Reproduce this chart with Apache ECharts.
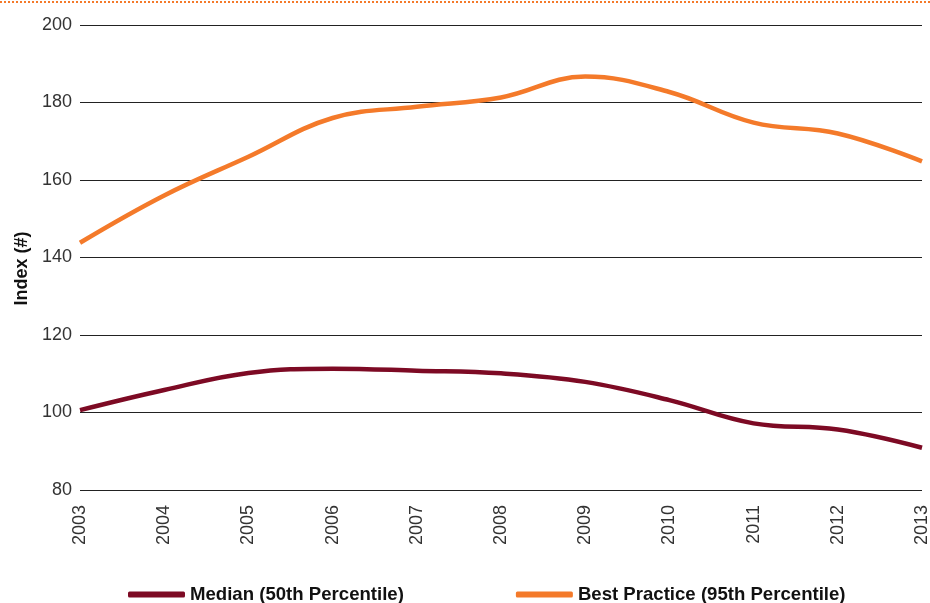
<!DOCTYPE html>
<html>
<head>
<meta charset="utf-8">
<script src="https://cdn.jsdelivr.net/npm/echarts@6/dist/echarts.min.js"></script>
<style>
  html, body { margin: 0; padding: 0; background: #fff; }
  #chart { width: 930px; height: 603px; }
</style>
</head>
<body>
<div id="chart"></div>
<script>
const years = ['2003', '2004', '2005', '2006', '2007', '2008', '2009', '2010', '2011', '2012', '2013']
const median = [100.6, 105.8, 110.2, 111.3, 110.8, 110.1, 107.9, 103.2, 97.2, 95.6, 90.9]
const bestPractice = [143.8, 156.0, 166.0, 176.0, 178.9, 181.3, 186.7, 182.7, 174.8, 172.0, 164.8]

const chart = echarts.init(document.getElementById('chart'))

chart.setOption({
  animation: false,
  textStyle: { fontFamily: 'Liberation Sans, Arial, sans-serif' },
  grid: { left: 80, right: 8, top: 25, bottom: 113, outerBoundsMode: 'none', containLabel: false },
  graphic: [
    {
      type: 'line',
      shape: { x1: 0, y1: 2, x2: 930, y2: 2 },
      style: { stroke: '#f47a2a', lineWidth: 2, lineDash: [2, 2] }
    }
  ],
  legend: {
    top: 585,
    left: 128,
    padding: 0,
    itemGap: 112,
    itemWidth: 57,
    itemHeight: 6,
    icon: 'roundRect',
    textStyle: { fontSize: 18.6, fontWeight: 'bold', color: '#111' },
    data: ['Median (50th Percentile)', 'Best Practice (95th Percentile)']
  },
  xAxis: {
    type: 'category',
    boundaryGap: false,
    data: years,
    axisLine: { show: false },
    axisTick: { show: false },
    axisLabel: { rotate: 90, margin: 15, fontSize: 18, color: '#333' }
  },
  yAxis: {
    type: 'value',
    min: 80,
    max: 200,
    interval: 20,
    name: 'Index (#)',
    nameLocation: 'middle',
    nameGap: 48,
    nameTextStyle: { fontSize: 18, fontWeight: 'bold', color: '#111', padding: [0, 22, 0, 0] },
    axisLine: { show: false },
    axisTick: { show: false },
    axisLabel: { fontSize: 18, color: '#333', margin: 8 },
    splitLine: { lineStyle: { color: '#222', width: 1 } }
  },
  series: [
    {
      name: 'Median (50th Percentile)',
      type: 'line',
      data: median,
      smooth: 0.4,
      symbol: 'none',
      itemStyle: { color: '#7d0a24' },
      lineStyle: { color: '#7d0a24', width: 4.5 }
    },
    {
      name: 'Best Practice (95th Percentile)',
      type: 'line',
      data: bestPractice,
      smooth: 0.4,
      symbol: 'none',
      itemStyle: { color: '#f47a2a' },
      lineStyle: { color: '#f47a2a', width: 4.5 }
    }
  ]
})
</script>
</body>
</html>
